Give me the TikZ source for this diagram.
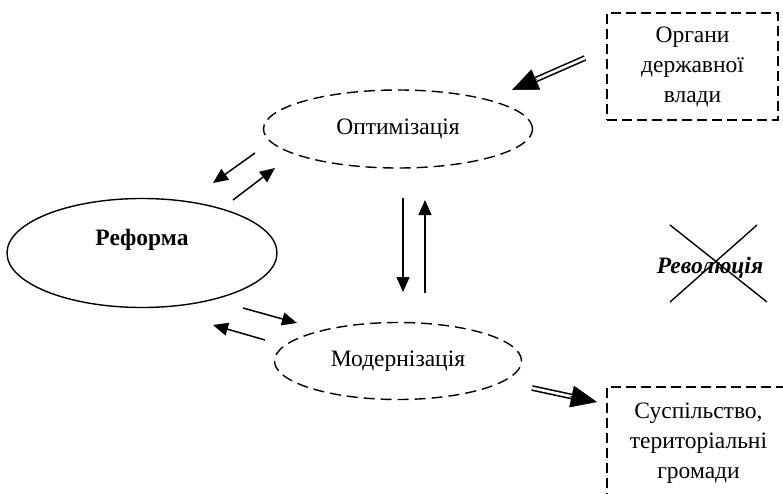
\documentclass[tikz,border=0pt]{standalone}
\usepackage{fontspec}
\setmainfont{Liberation Serif}
\usetikzlibrary{shapes.geometric,arrows.meta,calc}
\begin{document}
\begin{tikzpicture}[x=1pt,y=-1pt,
  every node/.style={font=\fontsize{23.5}{30}\selectfont},
  dashell/.style={ellipse,draw,dash pattern=on 11pt off 6pt,line width=1.4pt,inner sep=0pt},
  solidell/.style={ellipse,draw,line width=1.4pt,inner sep=0pt},
  dashbox/.style={draw,dash pattern=on 10pt off 5pt,line width=1.4pt,align=center,inner sep=0pt},
  arr/.style={line width=1.5pt,-{Triangle[length=15pt,width=13pt]}},
  dblline/.style={double,double distance=2.6pt,line width=1.6pt,shorten >=20pt},
  dbltip/.style={line width=0.5pt,-{Triangle[length=26pt,width=22pt]}},
  crossline/.style={line width=1.4pt}
]
\useasboundingbox (0,0) rectangle (783,494);
\clip (0,0) rectangle (783,494);

% nodes
\node[solidell,minimum width=270pt,minimum height=109pt] (reform) at (142,253) {};
\node[font=\fontsize{23.5}{30}\selectfont\bfseries] (reformtext) at ($(reform.center)+(0,-13)$) {Реформа};
\node[dashell,minimum width=269pt,minimum height=78pt] (opt) at (398,129) {Оптимізація};
\node[dashell,minimum width=247pt,minimum height=77pt] (mod) at (398,361) {Модернізація};
\node[dashbox,minimum width=171pt,minimum height=107pt] (organ) at (692.5,66.5) {Органи\\державної\\влади};
\node[dashbox,minimum width=183pt,minimum height=113pt] (society) at (698.5,443.5) {Суспільство,\\територіальні\\громади};
\node[font=\fontsize{23.5}{30}\selectfont\bfseries\itshape] (rev) at (710,268) {Революція};

% arrow end points
\coordinate (a1s) at (255,153); \coordinate (a1e) at (213,183);
\coordinate (a2s) at (233,200); \coordinate (a2e) at (275,168);
\coordinate (a3s) at (403,198); \coordinate (a3e) at (403,292);
\coordinate (a4s) at (425,293); \coordinate (a4e) at (425,200);
\coordinate (a5s) at (243,308); \coordinate (a5e) at (297,323);
\coordinate (a6s) at (265,340); \coordinate (a6e) at (213,325);
\coordinate (d1s) at (585,58);  \coordinate (d1e) at (512,90);
\coordinate (d2s) at (532,388); \coordinate (d2e) at (597,402);
\coordinate (x1s) at (670,225); \coordinate (x1e) at (767,302);
\coordinate (x2s) at (757,225); \coordinate (x2e) at (670,302);

% connectors
\draw[arr] (a1s) -- (a1e);
\draw[arr] (a2s) -- (a2e);
\draw[arr] (a3s) -- (a3e);
\draw[arr] (a4s) -- (a4e);
\draw[arr] (a5s) -- (a5e);
\draw[arr] (a6s) -- (a6e);
\draw[dblline] (d1s) -- (d1e);
\draw[dbltip] ($(d1e)!28pt!(d1s)$) -- (d1e);
\draw[dblline] (d2s) -- (d2e);
\draw[dbltip] ($(d2e)!28pt!(d2s)$) -- (d2e);

% cross over "Революція"
\draw[crossline] (x1s) -- (x1e);
\draw[crossline] (x2s) -- (x2e);
\end{tikzpicture}
\end{document}
